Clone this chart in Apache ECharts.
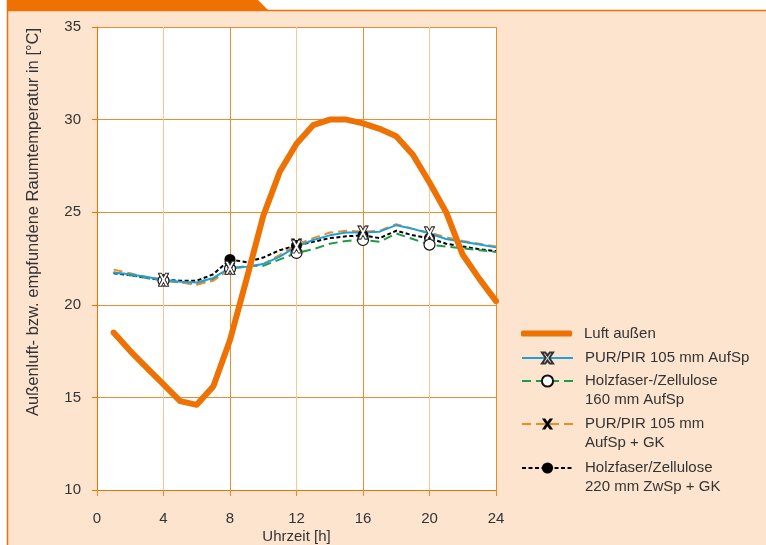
<!DOCTYPE html>
<html>
<head>
<meta charset="utf-8">
<script src="https://cdn.jsdelivr.net/npm/echarts@6/dist/echarts.min.js"></script>
<style>
  html, body { margin: 0; padding: 0; background: #fff; }
  #chart { width: 766px; height: 545px; }
</style>
</head>
<body>
<div id="chart"></div>
<script>
// hours of the day
const hours = [1, 2, 3, 4, 5, 6, 7, 8, 9, 10, 11, 12, 13, 14, 15, 16, 17, 18, 19, 20, 21, 22, 23, 24];
const markerHours = [4, 8, 12, 16, 20];

// temperatures [°C]
const luftAussen = [18.5, 17.5, 16.6, 15.7, 14.8, 14.6, 15.6, 18.1, 21.4, 24.8, 27.2, 28.7, 29.7, 30.0, 30.0, 29.8, 29.5, 29.1, 28.1, 26.6, 25.0, 22.7, 21.4, 20.2];
const purAufSp = [21.75, 21.65, 21.5, 21.35, 21.25, 21.2, 21.45, 22.0, 22.05, 22.2, 22.6, 23.15, 23.5, 23.75, 23.9, 23.9, 23.95, 24.3, 24.1, 23.85, 23.55, 23.4, 23.25, 23.1];
const holz160AufSp = [21.75, 21.6, 21.45, 21.3, 21.2, 21.1, 21.35, 21.95, 22.1, 22.1, 22.45, 22.8, 23.0, 23.3, 23.45, 23.5, 23.4, 23.85, 23.55, 23.25, 23.15, 23.05, 22.95, 22.85];
const purAufSpGK = [21.9, 21.7, 21.5, 21.35, 21.2, 21.1, 21.3, 21.95, 22.05, 22.2, 22.7, 23.25, 23.6, 23.9, 24.0, 23.95, 24.0, 24.35, 24.1, 23.9, 23.65, 23.45, 23.3, 23.15];
const holz220ZwSpGK = [21.7, 21.6, 21.45, 21.35, 21.3, 21.3, 21.65, 22.45, 22.3, 22.55, 22.95, 23.2, 23.4, 23.6, 23.7, 23.75, 23.6, 24.0, 23.75, 23.6, 23.3, 23.15, 23.0, 22.9];

const names = [
  'Luft außen',
  'PUR/PIR 105 mm AufSp',
  'Holzfaser-/Zellulose\n160 mm AufSp',
  'PUR/PIR 105 mm\nAufSp + GK',
  'Holzfaser/Zellulose\n220 mm ZwSp + GK'
];

const orange = '#ee7203';
const gridDark = '#f08a2e';
const gridLight = '#f9c79a';
const textColor = '#333';
const font = 'Liberation Sans, Arial, sans-serif';

const crossPath = 'path://M0,0 L3,0 L5,3.5 L7,0 L10,0 L6.6,6 L10,12 L7,12 L5,8.5 L3,12 L0,12 L3.4,6 Z';

// only every 4th hour gets a marker
function withMarkers(values) {
  return values.map((v, i) => {
    const h = hours[i];
    return markerHours.includes(h) ? [h, v] : { value: [h, v], symbol: 'none' };
  });
}

const chart = echarts.init(document.getElementById('chart'));

const legendText = {
  fontFamily: font,
  fontSize: 15,
  color: textColor,
  lineHeight: 19,
  padding: [0, 0, 0, 7]
};

function legendAt(name, top, extra) {
  return Object.assign({
    data: [name],
    left: 521,
    top: top,
    orient: 'vertical',
    padding: 0,
    itemWidth: 51,
    itemHeight: 14,
    selectedMode: false,
    // two-line entries: blank first line so the icon sits on the first text line
    formatter: n => (n.indexOf('\n') >= 0 ? ' \n' + n : n),
    textStyle: legendText
  }, extra || {});
}

chart.setOption({
  backgroundColor: '#fde4cf',
  animation: false,
  textStyle: { fontFamily: font },
  graphic: [
    // white margins, orange frame and tab
    { type: 'rect', shape: { x: 0, y: 0, width: 7, height: 545 }, style: { fill: '#fff' } },
    { type: 'rect', shape: { x: 0, y: 0, width: 766, height: 10 }, style: { fill: '#fff' } },
    { type: 'polygon', shape: { points: [[7, 0], [258, 0], [268, 10], [7, 10]] }, style: { fill: orange } },
    { type: 'line', shape: { x1: 7, y1: 10.5, x2: 766, y2: 10.5 }, style: { stroke: orange, lineWidth: 1.5 } },
    { type: 'line', shape: { x1: 7.5, y1: 0, x2: 7.5, y2: 545 }, style: { stroke: orange, lineWidth: 1.5 } },
    {
      type: 'text',
      x: 33, y: 222,
      rotation: Math.PI / 2,
      style: {
        text: 'Außenluft- bzw. empfundene Raumtemperatur in [°C]',
        font: '16.5px ' + font,
        fill: textColor,
        textAlign: 'center',
        textVerticalAlign: 'middle'
      }
    }
  ],
  legend: [
    legendAt(names[0], 324, { icon: 'roundRect', itemHeight: 6 }),
    legendAt(names[1], 348.5),
    legendAt(names[2], 352.5),
    legendAt(names[3], 395.5),
    legendAt(names[4], 439.5)
  ],
  grid: {
    left: 97, right: 270, top: 27, bottom: 55,
    outerBoundsMode: 'none',
    show: true, backgroundColor: '#fff', borderWidth: 0
  },
  xAxis: [
    {
      type: 'value',
      min: 0, max: 24, interval: 4,
      name: 'Uhrzeit [h]',
      nameLocation: 'middle',
      nameGap: 39,
      nameMoveOverlap: false,
      nameTextStyle: { fontSize: 15, color: textColor },
      axisLine: { lineStyle: { color: orange, width: 1 } },
      axisTick: { show: true, length: 6, lineStyle: { color: gridDark } },
      axisLabel: { fontSize: 15, color: textColor, margin: 21 },
      splitLine: { show: true, lineStyle: { color: gridLight, width: 1 } }
    },
    {
      // darker grid lines every 8 h
      type: 'value',
      min: 0, max: 24, interval: 8,
      position: 'bottom',
      axisLine: { show: false },
      axisTick: { show: false },
      axisLabel: { show: false },
      splitLine: { show: true, lineStyle: { color: gridDark, width: 1 } }
    }
  ],
  yAxis: {
    type: 'value',
    min: 10, max: 35, interval: 5,
    axisLine: { show: true, lineStyle: { color: orange, width: 1 } },
    axisTick: { show: true, length: 5, lineStyle: { color: orange } },
    axisLabel: { fontSize: 15, color: textColor, margin: 16 },
    splitLine: { show: true, lineStyle: { color: gridDark, width: 1 } }
  },
  series: [
    {
      name: names[4], type: 'line', data: withMarkers(holz220ZwSpGK),
      symbol: 'circle', symbolSize: 11,
      lineStyle: { color: '#000', width: 2, type: [4, 2.5] },
      itemStyle: { color: '#000' }
    },
    {
      name: names[2], type: 'line', data: withMarkers(holz160AufSp),
      symbol: 'circle', symbolSize: 11,
      lineStyle: { color: '#1f9a48', width: 2, type: [9, 5] },
      itemStyle: { color: '#fff', borderColor: '#111', borderWidth: 1.2 }
    },
    {
      name: names[3], type: 'line', data: withMarkers(purAufSpGK),
      symbol: crossPath, symbolSize: [11, 12],
      lineStyle: { color: '#f08a24', width: 2, type: [9, 5] },
      itemStyle: { color: '#000' }
    },
    {
      name: names[1], type: 'line', data: withMarkers(purAufSp),
      symbol: crossPath, symbolSize: [10, 13],
      lineStyle: { color: '#1ea0d8', width: 2 },
      itemStyle: { color: '#fff', borderColor: '#333', borderWidth: 1 }
    },
    {
      name: names[0], type: 'line', z: 5,
      data: luftAussen.map((v, i) => [hours[i], v]),
      symbol: 'none',
      lineStyle: { color: orange, width: 6, cap: 'round', join: 'round' },
      itemStyle: { color: orange }
    }
  ]
});
</script>
</body>
</html>
